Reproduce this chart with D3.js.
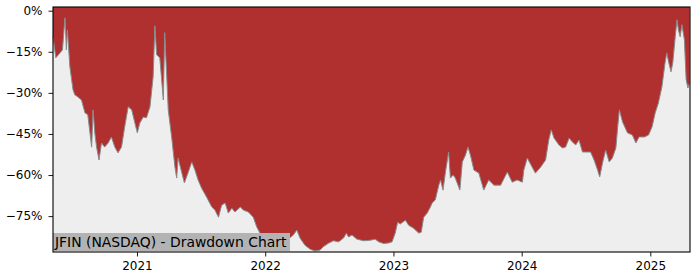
<!DOCTYPE html>
<html>
<head>
<meta charset="utf-8">
<script src="https://cdn.jsdelivr.net/npm/d3@7"></script>
<style>
body { margin: 0; background: #fff; }
text { font-family: "DejaVu Sans", sans-serif; }
</style>
</head>
<body>
<div id="chart"></div>
<script>
var dates = ["2020-05-07","2020-05-15","2020-05-27","2020-06-03","2020-06-10","2020-06-12","2020-06-14","2020-06-17","2020-06-24","2020-07-03",
"2020-07-08","2020-07-17","2020-07-27","2020-08-06","2020-08-14","2020-08-25","2020-08-29","2020-09-03","2020-09-08","2020-09-15",
"2020-09-22","2020-10-01","2020-10-11","2020-10-20","2020-10-30","2020-11-08","2020-11-18","2020-11-27","2020-12-07","2020-12-17",
"2020-12-26","2021-01-02","2021-01-09","2021-01-19","2021-01-28","2021-02-07","2021-02-16","2021-02-21","2021-02-26","2021-03-07",
"2021-03-17","2021-03-21","2021-03-31","2021-04-10","2021-04-19","2021-04-24","2021-04-28","2021-05-08","2021-05-16","2021-05-27",
"2021-06-06","2021-06-15","2021-06-24","2021-07-04","2021-07-18","2021-08-02","2021-08-11","2021-08-21","2021-08-30","2021-09-09",
"2021-09-18","2021-09-28","2021-10-07","2021-10-22","2021-10-31","2021-11-14","2021-11-28","2021-12-08","2021-12-17","2022-01-01",
"2022-01-21","2022-02-12","2022-03-04","2022-03-22","2022-04-01","2022-04-10","2022-04-24","2022-05-09","2022-05-23","2022-06-06",
"2022-06-15","2022-06-30","2022-07-14","2022-07-29","2022-08-12","2022-08-20","2022-08-26","2022-09-05","2022-09-19","2022-10-08",
"2022-10-27","2022-11-10","2022-11-20","2022-12-04","2022-12-18","2022-12-28","2023-01-06","2023-01-13","2023-01-20","2023-02-04",
"2023-02-13","2023-02-27","2023-03-14","2023-03-21","2023-03-28","2023-04-07","2023-04-16","2023-04-21","2023-04-30","2023-05-10",
"2023-05-15","2023-05-22","2023-05-29","2023-06-07","2023-06-12","2023-06-20","2023-06-26","2023-07-09","2023-07-16","2023-07-25",
"2023-08-01","2023-08-08","2023-08-18","2023-09-01","2023-09-15","2023-09-29","2023-10-14","2023-11-02","2023-11-21","2023-12-05",
"2023-12-19","2024-01-03","2024-01-07","2024-01-17","2024-01-26","2024-02-09","2024-02-24","2024-03-09","2024-03-18","2024-03-25",
"2024-04-02","2024-04-16","2024-04-26","2024-05-05","2024-05-15","2024-05-24","2024-06-03","2024-06-12","2024-06-22","2024-07-15",
"2024-07-25","2024-08-04","2024-08-10","2024-08-18","2024-08-27","2024-09-06","2024-09-15","2024-09-25","2024-09-30","2024-10-05",
"2024-10-14","2024-10-28","2024-11-11","2024-11-21","2024-11-30","2024-12-15","2024-12-27","2025-01-06","2025-01-15","2025-01-24",
"2025-02-03","2025-02-12","2025-02-17","2025-02-22","2025-03-01","2025-03-06","2025-03-13","2025-03-18","2025-03-22","2025-03-27",
"2025-04-01","2025-04-08","2025-04-13","2025-04-18","2025-04-23"];

var drawdown = [-9.5,-17.2,-15.4,-14.3,-2.6,-7.7,-14.3,-7.0,-20.5,-28.9,
-30.7,-31.5,-32.6,-37.3,-38.0,-49.8,-36.2,-44.6,-49.8,-54.5,
-48.3,-49.8,-48.3,-46.1,-49.8,-51.9,-49.8,-42.4,-35.1,-36.2,
-41.0,-44.6,-41.0,-38.8,-39.1,-35.1,-24.1,-5.5,-16.1,-17.2,
-32.6,-8.0,-36.2,-46.5,-57.1,-61.1,-53.8,-58.9,-62.9,-58.9,
-55.2,-58.2,-61.8,-64.8,-68.0,-71.7,-72.8,-75.4,-71.0,-70.2,
-73.9,-72.1,-73.5,-71.7,-72.8,-73.5,-75.4,-79.0,-81.2,-83.8,
-85.2,-86.0,-83.8,-81.9,-80.1,-83.0,-85.6,-87.1,-87.7,-87.4,
-86.2,-84.9,-84.0,-84.4,-83.0,-81.2,-82.6,-81.9,-83.4,-84.0,
-83.8,-83.4,-84.4,-85.0,-84.8,-84.4,-81.2,-77.2,-77.9,-76.5,
-78.3,-79.4,-81.2,-80.9,-75.4,-73.9,-71.7,-70.2,-69.1,-63.7,
-61.8,-65.5,-58.9,-51.6,-61.1,-60.0,-61.1,-65.5,-55.2,-52.7,
-49.8,-52.7,-58.2,-59.3,-65.5,-61.8,-63.7,-63.7,-58.9,-62.6,
-61.8,-62.6,-58.2,-53.8,-56.0,-59.3,-57.1,-54.5,-47.2,-43.5,
-46.5,-49.0,-50.1,-49.8,-46.5,-47.9,-49.0,-47.2,-51.6,-51.6,
-54.5,-58.2,-60.7,-55.6,-50.9,-55.2,-53.8,-50.1,-42.8,-36.2,
-40.6,-44.6,-45.4,-48.3,-46.1,-46.1,-45.4,-42.4,-37.3,-33.7,
-27.8,-19.0,-15.4,-18.7,-22.3,-19.0,-9.5,-3.3,-7.0,-9.5,
-5.1,-10.6,-25.2,-28.2,-26.3];

var yTicks = [0, -15, -30, -45, -60, -75];
var xTicks = ["2021-01-01","2022-01-01","2023-01-01","2024-01-01","2025-01-01"];
var xLimits = ["2020-05-07","2025-04-24"];
var yLimits = [-88.1, 1.35];
var title = "JFIN (NASDAQ) - Drawdown Chart";

var margin = {top: 7, right: 10, bottom: 28, left: 53}, width = 700 - margin.left - margin.right, height = 280 - margin.top - margin.bottom;
var parse = d3.timeParse("%Y-%m-%d");

var data = dates.map(function(d, i) { return {date: parse(d), value: drawdown[i]}; });

var svg = d3.select("#chart").append("svg").attr("width", 700).attr("height", 280)
  .append("g").attr("transform", "translate(" + margin.left + "," + margin.top + ")");

var x = d3.scaleTime().domain(xLimits.map(parse)).range([0, width]);
var y = d3.scaleLinear().domain(yLimits).range([height, 0]);

svg.append("rect").attr("width", width).attr("height", height).attr("fill", "#eeeeee");

var area = d3.area().x(function(d) { return x(d.date); }).y0(0).y1(function(d) { return y(d.value); });
svg.append("path").datum(data).attr("d", area).attr("fill", "#b03030");

var line = d3.line().x(function(d) { return x(d.date); }).y(function(d) { return y(d.value); });
svg.append("path").datum(data).attr("d", line).attr("fill", "none").attr("stroke", "#8a8a8a").attr("stroke-width", 1);

// label box in lower-left corner
var label = svg.append("g").attr("transform", "translate(0," + (height - 19) + ")");
label.append("rect").attr("width", 237).attr("height", 18).attr("fill", "#b3b3b3");
label.append("text").attr("x", 2).attr("y", 14).style("font-size", "13.9px").attr("fill", "#000").text(title);

var yAxis = svg.append("g").call(d3.axisLeft(y).tickValues(yTicks).tickSize(4.5).tickPadding(6)
  .tickFormat(function(d) { return (d < 0 ? "\u2212" + (-d) : d) + "%"; }));
var xAxis = svg.append("g").attr("transform", "translate(0," + height + ")")
  .call(d3.axisBottom(x).tickValues(xTicks.map(parse)).tickSize(4.5).tickPadding(5).tickFormat(d3.timeFormat("%Y")));

[yAxis, xAxis].forEach(function(a) {
  a.select(".domain").remove();
  a.selectAll("text").style("font-size", "12px").attr("fill", "#000").style("font-family", "DejaVu Sans, sans-serif");
  a.selectAll("line").attr("stroke", "#000").attr("stroke-width", 0.9);
});

svg.append("rect").attr("width", width).attr("height", height).attr("fill", "none").attr("stroke", "#000").attr("stroke-width", 1.1);
</script>
</body>
</html>
